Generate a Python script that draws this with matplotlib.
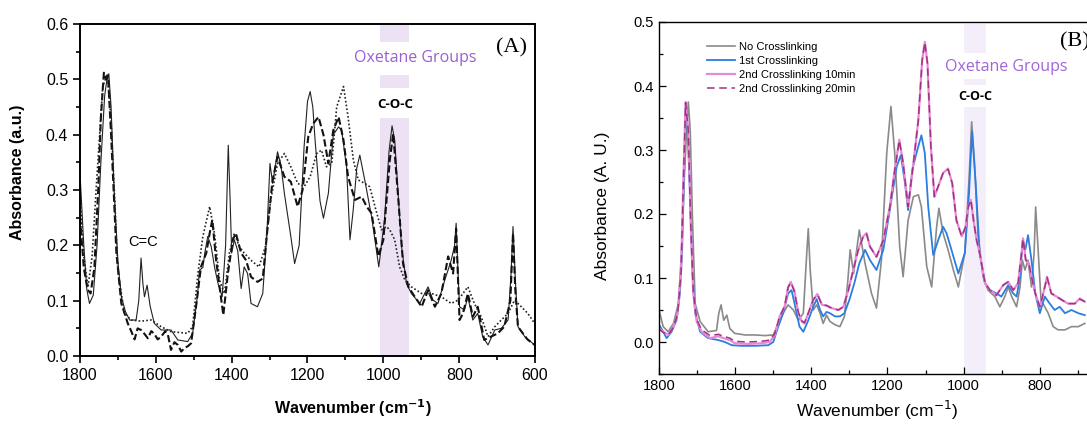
import matplotlib
matplotlib.use("Agg")
import matplotlib.pyplot as plt
from matplotlib.ticker import MultipleLocator

plt.rcParams['font.family'] = ['Liberation Sans', 'DejaVu Sans']

# ---- panel A: three spectra (solid / dashed / dotted) ----
a_solid_wn = [1800, 1790, 1782, 1775, 1765, 1755, 1745, 1735, 1728, 1724, 1718, 1710, 1700, 1691, 1680,
              1669, 1652, 1645, 1639, 1634, 1630, 1623, 1615, 1604, 1586, 1560, 1542, 1516, 1503, 1490,
              1485, 1476, 1470, 1463, 1454, 1445, 1436, 1425, 1416, 1409, 1404, 1400, 1393, 1384, 1375,
              1367, 1358, 1349, 1332, 1318, 1307, 1299, 1292, 1279, 1270, 1261, 1244, 1234, 1222, 1209,
              1200, 1193, 1186, 1180, 1167, 1158, 1145, 1132, 1118, 1110, 1097, 1088, 1080, 1070, 1062,
              1049, 1031, 1012, 997, 985, 977, 970, 965, 952, 939, 926, 904, 882, 869, 856,
              838, 821, 812, 808, 803, 799, 786, 777, 764, 751, 738, 724, 706, 689, 671,
              663, 658, 652, 645, 627, 601]
a_solid = [0.33, 0.20, 0.12, 0.095, 0.11, 0.20, 0.35, 0.47, 0.505, 0.51, 0.45, 0.30, 0.17, 0.107, 0.08,
           0.065, 0.065, 0.10, 0.177, 0.13, 0.107, 0.128, 0.09, 0.059, 0.047, 0.047, 0.029, 0.026, 0.041, 0.11,
           0.155, 0.16, 0.19, 0.216, 0.198, 0.16, 0.131, 0.107, 0.20, 0.381, 0.28, 0.186, 0.21, 0.19, 0.122,
           0.161, 0.149, 0.095, 0.089, 0.113, 0.222, 0.348, 0.312, 0.369, 0.345, 0.294, 0.216, 0.167, 0.20, 0.378,
           0.46, 0.478, 0.45, 0.39, 0.28, 0.249, 0.294, 0.40, 0.414, 0.408, 0.342, 0.21, 0.26, 0.34, 0.363,
           0.318, 0.252, 0.161, 0.246, 0.37, 0.416, 0.39, 0.336, 0.198, 0.131, 0.113, 0.095, 0.125, 0.101, 0.095,
           0.137, 0.173, 0.20, 0.24, 0.15, 0.089, 0.083, 0.107, 0.065, 0.077, 0.035, 0.02, 0.047, 0.05, 0.065,
           0.15, 0.234, 0.14, 0.053, 0.035, 0.02]

a_dash_wn = [1800, 1790, 1780, 1772, 1762, 1752, 1745, 1737, 1731, 1726, 1718, 1710, 1704, 1691, 1674,
             1665, 1656, 1648, 1639, 1630, 1621, 1612, 1604, 1595, 1586, 1575, 1568, 1560, 1551, 1542,
             1533, 1525, 1515, 1507, 1494, 1481, 1467, 1458, 1451, 1441, 1432, 1422, 1410, 1397, 1389,
             1375, 1362, 1349, 1332, 1318, 1305, 1292, 1279, 1261, 1244, 1226, 1213, 1198, 1185, 1171,
             1158, 1145, 1132, 1118, 1105, 1093, 1075, 1057, 1044, 1031, 1013, 1000, 983, 974, 961,
             948, 934, 917, 899, 882, 864, 847, 829, 816, 808, 799, 790, 777, 764, 751,
             734, 716, 698, 681, 665, 658, 652, 645, 620, 601]
a_dash = [0.25, 0.16, 0.12, 0.113, 0.16, 0.30, 0.43, 0.512, 0.50, 0.505, 0.40, 0.28, 0.186, 0.095, 0.059,
          0.045, 0.03, 0.05, 0.047, 0.04, 0.032, 0.045, 0.04, 0.03, 0.035, 0.045, 0.038, 0.011, 0.025, 0.02,
          0.008, 0.014, 0.018, 0.023, 0.089, 0.161, 0.186, 0.222, 0.246, 0.173, 0.125, 0.074, 0.149, 0.21, 0.222,
          0.186, 0.173, 0.143, 0.134, 0.14, 0.234, 0.318, 0.36, 0.324, 0.315, 0.27, 0.30, 0.396, 0.42, 0.432,
          0.40, 0.348, 0.408, 0.432, 0.39, 0.324, 0.282, 0.288, 0.27, 0.258, 0.18, 0.21, 0.354, 0.402, 0.288,
          0.167, 0.125, 0.107, 0.089, 0.119, 0.089, 0.113, 0.18, 0.149, 0.23, 0.065, 0.077, 0.113, 0.071, 0.089,
          0.029, 0.035, 0.041, 0.053, 0.10, 0.222, 0.12, 0.053, 0.03, 0.02]

a_dot_wn = [1800, 1790, 1779, 1768, 1757, 1740, 1728, 1718, 1700, 1683, 1665, 1639, 1612, 1586, 1560,
            1516, 1503, 1489, 1476, 1458, 1445, 1432, 1419, 1406, 1393, 1380, 1367, 1349, 1328, 1311,
            1297, 1279, 1261, 1244, 1226, 1209, 1193, 1176, 1163, 1150, 1136, 1123, 1105, 1093, 1079,
            1066, 1049, 1036, 1022, 1005, 992, 983, 970, 957, 943, 926, 899, 873, 847, 821,
            803, 790, 777, 760, 742, 724, 706, 689, 671, 654, 636, 619, 601]
a_dot = [0.29, 0.18, 0.125, 0.18, 0.306, 0.487, 0.51, 0.426, 0.155, 0.077, 0.065, 0.063, 0.065, 0.053, 0.044,
         0.041, 0.053, 0.149, 0.216, 0.27, 0.22, 0.137, 0.113, 0.186, 0.222, 0.198, 0.186, 0.173, 0.161, 0.198,
         0.282, 0.348, 0.366, 0.342, 0.312, 0.306, 0.324, 0.366, 0.372, 0.342, 0.348, 0.45, 0.487, 0.432, 0.354,
         0.318, 0.312, 0.306, 0.27, 0.228, 0.234, 0.228, 0.21, 0.161, 0.137, 0.125, 0.113, 0.113, 0.107, 0.095,
         0.101, 0.113, 0.125, 0.095, 0.071, 0.035, 0.053, 0.065, 0.077, 0.101, 0.089, 0.077, 0.059]

# ---- panel B: four spectra ----
b_labels = ['No Crosslinking', '1st Crosslinking', '2nd Crosslinking 10min', '2nd Crosslinking 20min']

b_none_wn = [1800, 1789, 1776, 1762, 1749, 1741, 1734, 1727, 1723, 1718, 1712, 1705, 1692, 1671, 1649,
             1643, 1637, 1630, 1622, 1614, 1601, 1574, 1548, 1522, 1500, 1487, 1474, 1461, 1447, 1434,
             1421, 1412, 1408, 1403, 1395, 1386, 1377, 1369, 1360, 1351, 1338, 1325, 1313, 1304, 1298,
             1289, 1282, 1274, 1259, 1242, 1229, 1216, 1202, 1191, 1181, 1168, 1159, 1146, 1132, 1119,
             1111, 1097, 1084, 1071, 1065, 1054, 1041, 1027, 1014, 997, 986, 979, 972, 962, 949,
             936, 918, 905, 892, 883, 874, 861, 852, 846, 839, 831, 822, 815, 811, 804,
             797, 787, 778, 765, 752, 734, 717, 699, 682]
b_none = [0.05, 0.024, 0.016, 0.029, 0.06, 0.139, 0.25, 0.336, 0.375, 0.33, 0.19, 0.06, 0.032, 0.016, 0.018,
          0.045, 0.058, 0.034, 0.042, 0.021, 0.0135, 0.011, 0.011, 0.01, 0.011, 0.029, 0.045, 0.058, 0.05, 0.034,
          0.045, 0.139, 0.177, 0.113, 0.05, 0.058, 0.045, 0.029, 0.042, 0.032, 0.027, 0.024, 0.04, 0.097, 0.144,
          0.107, 0.139, 0.175, 0.123, 0.076, 0.053, 0.128, 0.295, 0.368, 0.295, 0.149, 0.102, 0.19, 0.227, 0.23,
          0.211, 0.118, 0.086, 0.18, 0.209, 0.17, 0.144, 0.1125, 0.086, 0.139, 0.253, 0.344, 0.284, 0.165, 0.102,
          0.081, 0.071, 0.055, 0.071, 0.086, 0.071, 0.055, 0.086, 0.128, 0.1125, 0.128, 0.086, 0.139, 0.211, 0.139,
          0.066, 0.055, 0.045, 0.024, 0.019, 0.019, 0.024, 0.024, 0.029]

b_first_wn = [1800, 1789, 1780, 1767, 1754, 1745, 1739, 1734, 1730, 1727, 1719, 1712, 1705, 1692, 1671,
              1644, 1627, 1609, 1583, 1548, 1513, 1500, 1487, 1474, 1461, 1452, 1444, 1431, 1421, 1408,
              1395, 1386, 1377, 1369, 1360, 1351, 1338, 1325, 1313, 1300, 1287, 1274, 1259, 1246, 1229,
              1211, 1194, 1176, 1165, 1154, 1146, 1135, 1124, 1111, 1102, 1093, 1080, 1067, 1054, 1045,
              1032, 1014, 997, 986, 978, 969, 958, 944, 931, 914, 901, 883, 870, 861, 852,
              845, 838, 831, 822, 812, 800, 787, 774, 761, 748, 734, 717, 699, 682]
b_first = [0.027, 0.016, 0.006, 0.016, 0.034, 0.076, 0.148, 0.268, 0.373, 0.36, 0.24, 0.107, 0.045, 0.016, 0.006,
           0.003, 0.0, -0.005, -0.006, -0.006, -0.005, 0.0, 0.024, 0.045, 0.076, 0.081, 0.06, 0.024, 0.016, 0.034,
           0.055, 0.067, 0.05, 0.04, 0.047, 0.045, 0.04, 0.04, 0.045, 0.066, 0.092, 0.123, 0.144, 0.128, 0.1125,
           0.144, 0.206, 0.274, 0.292, 0.248, 0.206, 0.269, 0.295, 0.323, 0.295, 0.211, 0.136, 0.159, 0.18, 0.17,
           0.144, 0.107, 0.139, 0.232, 0.329, 0.253, 0.139, 0.092, 0.081, 0.076, 0.071, 0.089, 0.076, 0.071, 0.102,
           0.159, 0.144, 0.167, 0.128, 0.076, 0.045, 0.071, 0.06, 0.05, 0.055, 0.045, 0.05, 0.045, 0.042]

b_second_wn = [1800, 1789, 1776, 1762, 1751, 1742, 1736, 1730, 1723, 1717, 1710, 1701, 1688, 1666, 1644,
               1631, 1614, 1601, 1566, 1532, 1509, 1496, 1483, 1470, 1461, 1454, 1445, 1434, 1425, 1418,
               1408, 1395, 1384, 1372, 1360, 1347, 1329, 1316, 1303, 1290, 1277, 1264, 1255, 1246, 1229,
               1211, 1194, 1181, 1169, 1159, 1146, 1132, 1119, 1109, 1102, 1095, 1086, 1077, 1067, 1054,
               1041, 1030, 1019, 1005, 995, 988, 981, 974, 966, 958, 944, 931, 914, 896, 883,
               870, 857, 848, 844, 837, 829, 822, 812, 800, 791, 781, 770, 756, 743, 726,
               708, 695, 682]
b_second_10 = [0.021, 0.016, 0.011, 0.024, 0.045, 0.1125, 0.253, 0.375, 0.33, 0.19, 0.076, 0.032, 0.016, 0.006, 0.009,
               0.006, 0.003, -0.002, -0.003, -0.002, 0.0, 0.011, 0.04, 0.055, 0.086, 0.094, 0.081, 0.045, 0.032, 0.029,
               0.045, 0.066, 0.075, 0.058, 0.057, 0.053, 0.05, 0.055, 0.081, 0.1125, 0.144, 0.165, 0.17, 0.149, 0.133,
               0.159, 0.211, 0.269, 0.316, 0.28, 0.211, 0.279, 0.347, 0.44, 0.469, 0.435, 0.305, 0.227, 0.243, 0.264,
               0.271, 0.248, 0.19, 0.165, 0.18, 0.211, 0.222, 0.19, 0.159, 0.139, 0.092, 0.081, 0.073, 0.089, 0.094,
               0.081, 0.092, 0.139, 0.162, 0.128, 0.123, 0.102, 0.076, 0.055, 0.076, 0.102, 0.076, 0.071, 0.066, 0.06,
               0.06, 0.068, 0.063]
b_second_20 = [0.02, 0.015, 0.011, 0.023, 0.045, 0.11, 0.25, 0.374, 0.33, 0.19, 0.078, 0.035, 0.019, 0.01, 0.012,
               0.009, 0.006, 0.001, 0.0, 0.001, 0.003, 0.013, 0.04, 0.056, 0.085, 0.093, 0.08, 0.046, 0.033, 0.03,
               0.045, 0.066, 0.074, 0.058, 0.057, 0.053, 0.05, 0.055, 0.08, 0.112, 0.143, 0.164, 0.169, 0.149, 0.133,
               0.159, 0.21, 0.268, 0.315, 0.28, 0.211, 0.279, 0.347, 0.44, 0.468, 0.435, 0.305, 0.227, 0.243, 0.264,
               0.27, 0.248, 0.19, 0.165, 0.18, 0.211, 0.222, 0.19, 0.159, 0.139, 0.092, 0.081, 0.073, 0.089, 0.094,
               0.081, 0.092, 0.139, 0.161, 0.128, 0.123, 0.102, 0.076, 0.055, 0.076, 0.101, 0.076, 0.071, 0.066, 0.06,
               0.06, 0.067, 0.063]

band_color_a = '#ede2f4'
band_color_b = '#f3eefa'
oxetane_color = '#9b5fd0'

fig = plt.figure(figsize=(10.87, 4.26), dpi=100)

# ================= panel A =================
axA = fig.add_axes([80 / 1087, 70 / 426, 455 / 1087, 332 / 426])
axA.plot(a_solid_wn, a_solid, color='#222222', lw=0.8)
axA.plot(a_dash_wn, a_dash, color='#111111', lw=1.5, linestyle=(0, (3.5, 1.5)))
axA.plot(a_dot_wn, a_dot, color='#222222', lw=1.2, linestyle=(0, (1, 1.3)))

# band, broken where the labels sit
axA.axvspan(1010, 932, ymin=0.946, ymax=1.0, color=band_color_a, lw=0, zorder=0)
axA.axvspan(1010, 932, ymin=0.807, ymax=0.846, color=band_color_a, lw=0, zorder=0)
axA.axvspan(1010, 932, ymin=0.0, ymax=0.717, color=band_color_a, lw=0, zorder=0)

axA.set_xlim(1800, 600)
axA.set_ylim(0, 0.6)
axA.xaxis.set_major_locator(MultipleLocator(200))
axA.xaxis.set_minor_locator(MultipleLocator(100))
axA.yaxis.set_major_locator(MultipleLocator(0.1))
axA.yaxis.set_minor_locator(MultipleLocator(0.05))
axA.yaxis.set_major_formatter(plt.FormatStrFormatter('%.1f'))
axA.tick_params(which='both', direction='out', labelsize=11.5, width=1.2)
axA.tick_params(which='major', length=5)
axA.tick_params(which='minor', length=3)
for s in axA.spines.values():
    s.set_linewidth(1.4)

axA.set_xlabel('Wavenumber (cm$^{\\mathbf{-1}}$)', fontsize=11.5, fontweight='bold')
axA.xaxis.set_label_coords(0.6, -0.125)
axA.set_ylabel('Absorbance (a.u.)', fontsize=11.5, fontweight='bold')
axA.yaxis.set_label_coords(-0.12, 0.554)

axA.text(1634, 0.206, 'C=C', fontsize=10.5, ha='center', va='center')
axA.text(0.949, 0.928, '(A)', transform=axA.transAxes, fontsize=16, ha='center', va='center',
         family='Liberation Serif')
axA.text(0.736, 0.898, 'Oxetane Groups', transform=axA.transAxes, fontsize=11.5, ha='center', va='center',
         color=oxetane_color, family='Open Sans')
axA.text(0.692, 0.759, 'C-O-C', transform=axA.transAxes, fontsize=9.5, ha='center', va='center',
         fontweight='bold', family='Open Sans')

# ================= panel B =================
axB = fig.add_axes([659 / 1087, 52 / 426, 457 / 1087, 352 / 426])
axB.plot(b_none_wn, b_none, color='#8a8a8a', lw=1.2, label=b_labels[0])
axB.plot(b_first_wn, b_first, color='#2a7de1', lw=1.3, label=b_labels[1])
axB.plot(b_second_wn, b_second_10, color='#e68ad8', lw=1.6, label=b_labels[2])
axB.plot(b_second_wn, b_second_20, color='#a3327e', lw=1.1, linestyle=(0, (5, 3)), label=b_labels[3])

axB.axvspan(1000, 942, ymin=0.912, ymax=0.995, color=band_color_b, lw=0, zorder=0)
axB.axvspan(1000, 942, ymin=0.821, ymax=0.838, color=band_color_b, lw=0, zorder=0)
axB.axvspan(1000, 942, ymin=0.0, ymax=0.759, color=band_color_b, lw=0, zorder=0)

axB.set_xlim(1800, 600)
axB.set_ylim(-0.05, 0.5)
axB.xaxis.set_major_locator(MultipleLocator(200))
axB.xaxis.set_minor_locator(MultipleLocator(100))
axB.yaxis.set_major_locator(MultipleLocator(0.1))
axB.yaxis.set_minor_locator(MultipleLocator(0.05))
axB.yaxis.set_major_formatter(plt.FormatStrFormatter('%.1f'))
axB.tick_params(which='both', direction='in', labelsize=10.5, width=0.9)
axB.tick_params(which='major', length=5)
axB.tick_params(which='minor', length=3)
for s in axB.spines.values():
    s.set_linewidth(1.0)

axB.set_xlabel('Wavenumber (cm$^{-1}$)', fontsize=12.5)
axB.xaxis.set_label_coords(0.477, -0.072)
axB.set_ylabel('Absorbance (A. U.)', fontsize=12.5)
axB.yaxis.set_label_coords(-0.107, 0.477)

axB.legend(loc='upper left', bbox_to_anchor=(0.095, 0.955), frameon=False, fontsize=8,
           handlelength=2.5, handletextpad=0.35, labelspacing=0.35, borderaxespad=0)

axB.text(0.877, 0.943, '(B)', transform=axB.transAxes, fontsize=16, ha='left', va='center',
         family='Liberation Serif')
axB.text(0.759, 0.872, 'Oxetane Groups', transform=axB.transAxes, fontsize=11.5, ha='center', va='center',
         color='#a064db', family='Open Sans')
axB.text(0.691, 0.787, 'C-O-C', transform=axB.transAxes, fontsize=9, ha='center', va='center',
         fontweight='bold', family='Open Sans')

fig.savefig('out.png', dpi=100)
